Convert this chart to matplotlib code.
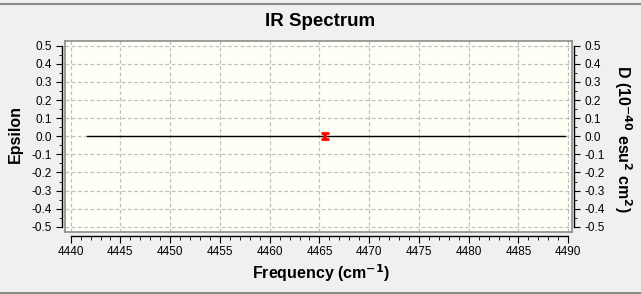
import matplotlib
matplotlib.use("Agg")
import matplotlib.pyplot as plt
from matplotlib.ticker import MultipleLocator, FormatStrFormatter
from matplotlib.lines import Line2D

# Data
spectrum_x = [4441.6, 4489.7]
spectrum_y = [0.0, 0.0]
peak_freq = [4465.6]
peak_int = [0.0]
xticks = [4440, 4445, 4450, 4455, 4460, 4465, 4470, 4475, 4480, 4485, 4490]
yticks = [-0.5, -0.4, -0.3, -0.2, -0.1, 0.0, 0.1, 0.2, 0.3, 0.4, 0.5]

W, H = 641, 294
fig = plt.figure(figsize=(W / 100, H / 100), dpi=100, facecolor="#f0f0f0")
plt.rcParams['font.family'] = ['Liberation Sans', 'DejaVu Sans']

box = [65 / W, (H - 232) / H, (572.3 - 65) / W, (232 - 40.7) / H]
ax = fig.add_axes(box, facecolor="#fffff6")
xlim = (4439.43, 4490.41)
ylim = (-0.529, 0.528)
ax.set_xlim(*xlim)
ax.set_ylim(*ylim)
for s in ax.spines.values():
    s.set_color("#8c8c8c")
    s.set_linewidth(1.2)
ax.set_xticks(xticks)
ax.set_yticks(yticks)
ax.tick_params(length=0, labelbottom=False, labelleft=False)
ax.grid(True, color="#c0c0c0", linestyle=(0, (3, 2)), linewidth=0.9)

ax.plot(spectrum_x, spectrum_y, color="black", linewidth=1.0, zorder=3)
ax.errorbar(peak_freq, peak_int, yerr=0.016, color="#ff0000", elinewidth=2.6,
            capsize=2.6, capthick=2, fmt="none", zorder=4)

# tick axes
at = fig.add_axes(box, facecolor="none")
at.set_xlim(*xlim)
at.set_ylim(*ylim)
at.spines['top'].set_visible(False)
at.spines['left'].set_position(('outward', 2.2))
at.spines['left'].set_bounds(-0.5, 0.5)
at.spines['right'].set_position(('outward', 1.3))
at.spines['right'].set_bounds(-0.5, 0.5)
at.spines['bottom'].set_position(('outward', 2.7))
at.spines['bottom'].set_bounds(4440, 4490)
for k in ['left', 'right', 'bottom']:
    at.spines[k].set_linewidth(1.0)
at.set_xticks(xticks)
at.set_yticks(yticks)
at.xaxis.set_minor_locator(MultipleLocator(1))
at.yaxis.set_minor_locator(MultipleLocator(0.05))
at.yaxis.set_major_formatter(FormatStrFormatter('%.1f'))
at.tick_params(axis='y', which='both', left=True, right=True, labelleft=True, labelright=True,
               direction='out', labelsize=8.5, pad=3.5)
at.tick_params(axis='y', which='major', length=4)
at.tick_params(axis='y', which='minor', length=2.2)
at.tick_params(axis='x', which='major', length=5, labelsize=8.5, pad=2.5)
at.tick_params(axis='x', which='minor', length=3)
at.patch.set_visible(False)

fig.text(320 / W, 1 - 21.5 / H, "IR Spectrum", ha='center', va='center',
         fontsize=13.5, fontweight='bold')
fig.text(321 / W, 1 - 273 / H, "Frequency (cm$^{\\mathbf{-1}}$)", ha='center', va='center',
         fontsize=11.5, fontweight='bold')
fig.text(15 / W, 1 - 134 / H, "Epsilon", ha='center', va='center', rotation=90,
         fontsize=11.5, fontweight='bold')
fig.text(623 / W, 1 - 139 / H, "D (10$^{\\mathbf{-40}}$ esu$^{\\mathbf{2}}$ cm$^{\\mathbf{2}}$)",
         ha='center', va='center', rotation=-90, fontsize=11.5, fontweight='bold')

fig.add_artist(Line2D([0, 1], [1 - 3.5 / H, 1 - 3.5 / H], color="#8c8c8c", linewidth=1.5,
                      transform=fig.transFigure))
fig.add_artist(Line2D([0, 1], [1 - 292.5 / H, 1 - 292.5 / H], color="#8c8c8c", linewidth=1.5,
                      transform=fig.transFigure))

fig.savefig("out.png", dpi=100, facecolor=fig.get_facecolor())
